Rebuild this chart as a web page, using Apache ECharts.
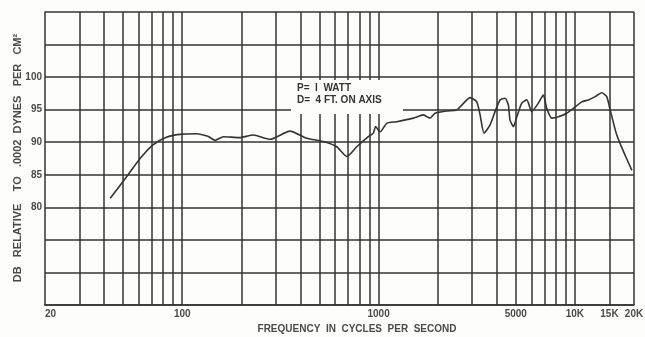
<!DOCTYPE html>
<html>
<head>
<meta charset="utf-8">
<script src="https://cdn.jsdelivr.net/npm/echarts@6/dist/echarts.min.js"></script>
<style>
  html, body { margin: 0; padding: 0; background: #fdfdfb; }
  #chart { width: 645px; height: 337px; }
</style>
</head>
<body>
<div id="chart"></div>
<script>
// Measured response, sound pressure level vs frequency
const freqHz = [43, 53, 61, 71, 83, 97, 118, 135, 147, 162, 195, 230, 280, 354, 431, 523, 612, 689, 774, 887,
  941, 966, 1018, 1101, 1238, 1504, 1691, 1829, 1941, 2225, 2500, 2654, 2925, 3163, 3289, 3446, 3698, 3921,
  4158, 4407, 4583, 4674, 4863, 5060, 5364, 5688, 6030, 6516, 6911, 7189, 7622, 8241, 9093, 9826, 10840,
  11720, 12680, 13710, 14530, 15110, 16340, 18020, 19500];
const levelDb = [81.4, 85.0, 87.5, 89.6, 90.75, 91.2, 91.3, 90.9, 90.3, 90.85, 90.7, 91.1, 90.45, 91.7, 90.6, 90.1, 89.3, 87.8, 89.3, 90.85,
  91.4, 92.4, 91.6, 92.9, 93.15, 93.7, 94.2, 93.7, 94.45, 94.8, 94.95, 95.7, 96.85, 96.2, 94.2, 91.4, 92.65, 94.7,
  96.5, 96.75, 95.7, 93.4, 92.4, 93.9, 96.0, 96.5, 94.7, 96.0, 97.25, 95.2, 93.7, 93.9, 94.45, 95.2, 96.2,
  96.5, 97.0, 97.6, 97.0, 95.0, 91.1, 88.0, 85.7];

// Vertical rulings of the log paper
const gridFreqs = [30, 40, 50, 60, 70, 80, 90, 100, 200, 300, 400, 500, 600, 700, 800, 900,
  1000, 2000, 3000, 4000, 5000, 6000, 7000, 8000, 9000, 10000, 15000, 20000];
// Frequency tick labels
const freqTicks = [20, 100, 1000, 5000, 10000, 15000, 20000];
// Level tick labels shown on the scale
const dbTicks = [80, 85, 90, 95, 100];

const INK = '#333333';
const TEXT = '#4a4a4a';
const FONT = '"Liberation Sans", Arial, sans-serif';

const chart = echarts.init(document.getElementById('chart'), null, { renderer: 'canvas' });

chart.setOption({
  backgroundColor: '#fdfdfb',
  animation: false,
  grid: { left: 45, right: 11, top: 12, bottom: 32, containLabel: false, outerBoundsMode: 'none' },
  xAxis: {
    type: 'log',
    logBase: 10,
    min: 20,
    max: 20000,
    axisLine: { show: true, lineStyle: { color: INK, width: 1.5 } },
    axisTick: { show: false },
    splitLine: { show: false },
    minorSplitLine: { show: false },
    axisLabel: {
      customValues: freqTicks,
      margin: 4,
      color: TEXT,
      fontFamily: FONT,
      fontWeight: 'bold',
      fontSize: 10,
      alignMinLabel: 'left',
      formatter: v => (v >= 10000 ? Math.round(v / 1000) + 'K' : String(Math.round(v)))
    }
  },
  yAxis: {
    type: 'value',
    min: 65,
    max: 110,
    interval: 5,
    axisLine: { show: true, lineStyle: { color: INK, width: 1.5 } },
    axisTick: { show: false },
    splitLine: { show: true, lineStyle: { color: INK, width: 1.5 } },
    axisLabel: {
      margin: 3,
      color: TEXT,
      fontFamily: FONT,
      fontWeight: 'bold',
      fontSize: 10,
      formatter: v => (dbTicks.includes(v) ? String(v) : '')
    }
  },
  series: [
    {
      type: 'line',
      data: freqHz.map((f, i) => [f, levelDb[i]]),
      showSymbol: false,
      smooth: 0.2,
      lineStyle: { color: INK, width: 1.6 },
      z: 10,
      markLine: {
        silent: true,
        symbol: 'none',
        label: { show: false },
        lineStyle: { color: INK, width: 1.5, type: 'solid' },
        data: gridFreqs.map(f => ({ xAxis: f }))
      }
    }
  ],
  graphic: [
    {
      type: 'rect',
      z: 100,
      shape: { x: 291, y: 80, width: 112, height: 34 },
      style: { fill: '#fdfdfb' }
    },
    {
      type: 'text',
      z: 101,
      x: 297, y: 83,
      style: { text: 'P=  I  WATT', fill: '#333', font: 'bold 10px ' + FONT }
    },
    {
      type: 'text',
      z: 101,
      x: 297, y: 95,
      style: { text: 'D=  4 FT. ON AXIS', fill: '#333', font: 'bold 10px ' + FONT }
    },
    {
      // vertical scale title
      type: 'text',
      z: 101,
      x: 18, y: 158,
      rotation: Math.PI / 2,
      style: {
        text: 'DB   RELATIVE    TO   .0002  DYNES   PER   CM²',
        fill: TEXT,
        font: 'bold 11px ' + FONT,
        align: 'center',
        verticalAlign: 'middle'
      }
    },
    {
      type: 'text',
      z: 101,
      x: 357, y: 324,
      style: {
        text: 'FREQUENCY  IN  CYCLES  PER  SECOND',
        fill: TEXT,
        font: 'bold 10px ' + FONT,
        align: 'center'
      }
    }
  ]
});
</script>
</body>
</html>
